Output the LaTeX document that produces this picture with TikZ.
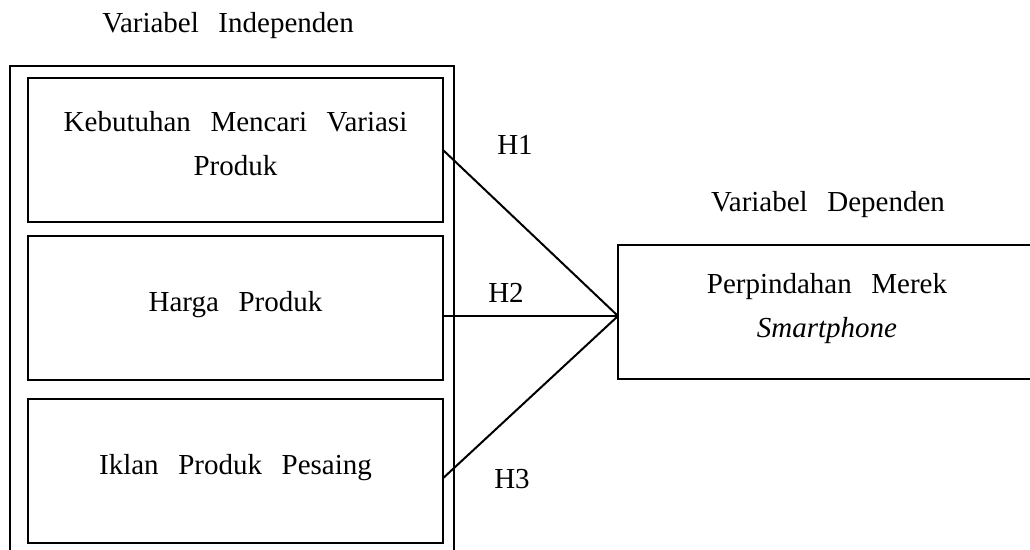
\documentclass[tikz,border=0pt]{standalone}
\usepackage{fontspec}
\setmainfont{Liberation Serif}[WordSpace=2.7]
\usepackage{tikz}
\usetikzlibrary{positioning}
\tikzset{
  basic/.style  = {draw, rectangle, line width=1.3pt, outer sep=0pt, align=center,
                   font=\fontsize{14.5}{22}\selectfont,
                   execute at end node={\rule[-7pt]{0pt}{1pt}}},
  group/.style  = {basic, minimum width=222pt, minimum height=257pt},
  indep/.style  = {basic, minimum width=207.5pt, minimum height=72pt},
  dep/.style    = {basic, minimum width=209pt, minimum height=67pt},
  caption/.style = {font=\fontsize{14.5}{22}\selectfont, anchor=base, inner sep=0pt},
  link/.style   = {draw, line width=1pt}
}

\begin{document}
\begin{tikzpicture}[x=0.5pt, y=-0.5pt]
\useasboundingbox (0,0) rectangle (1030,550);

% frame round the independent variables
\node[group] (grp) at (232,323) {};
\node[caption] (tind) at (228,33) {Variabel Independen};

% the independent variables, stacked in the frame
\node[indep] (b1) at (235.5,150) {Kebutuhan Mencari Variasi\\Produk};
\node[indep, below=7pt of b1] (b2) {Harga Produk};
\node[indep, below=9.5pt of b2] (b3) {Iklan Produk Pesaing};

% the dependent variable
\node[dep] (dv) at (827,312) {Perpindahan Merek\\\textit{Smartphone}};
\node[caption] (tdep) at (828,212) {Variabel Dependen};
\coordinate (hub) at ([yshift=-2pt]dv.west);

% hypotheses
\draw[link] (b1.east) -- (hub);
\draw[link] (b2.east |- hub) -- (hub);
\draw[link] (b3.-2.5) -- (hub);
\node[caption] (h1) at (515,155) {H1};
\node[caption] (h2) at (506,303) {H2};
\node[caption] (h3) at (512,489) {H3};
\end{tikzpicture}
\end{document}
